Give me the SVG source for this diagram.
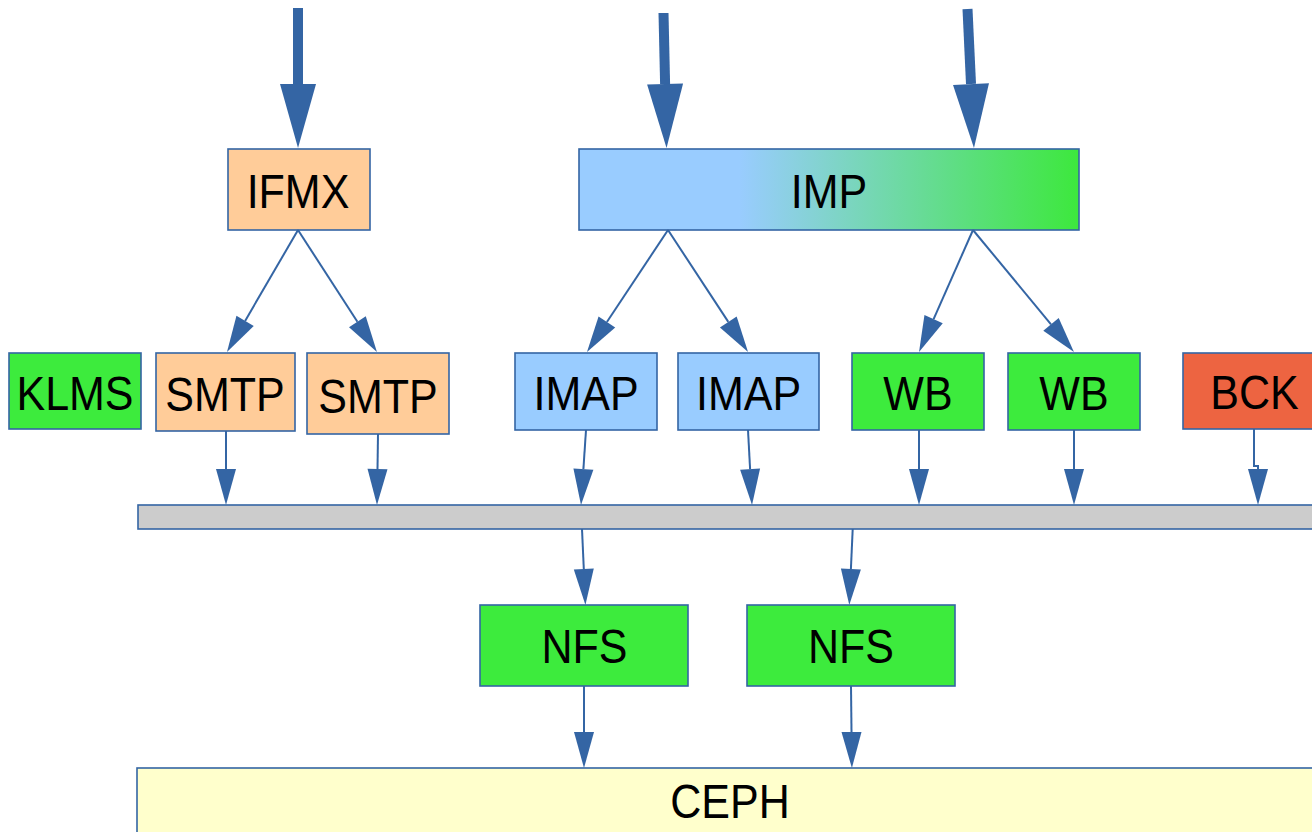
<svg xmlns="http://www.w3.org/2000/svg" width="1312" height="832" viewBox="0 0 1312 832">
  <defs>
    <style>
      .box { stroke: #3465a4; stroke-width: 1.6; }
      .peach { fill: #ffcc99; }
      .green { fill: #3deb3d; }
      .blue { fill: #99ccff; }
      .red { fill: #ed6441; }
      .gray { fill: #cccccc; }
      .cream { fill: #ffffcc; }
      .lbl { font-family: "Liberation Sans", Arial, sans-serif; font-size: 43px; fill: #000; text-anchor: middle; }
      .thin { stroke: #3465a4; stroke-width: 2; fill: none; }
      .thick { stroke: #3465a4; stroke-width: 10; fill: none; }
    </style>
    <linearGradient id="impFill" x1="0" y1="0" x2="1" y2="0">
      <stop offset="0.32" stop-color="#99ccff"/>
      <stop offset="1" stop-color="#3de83d"/>
    </linearGradient>
    <marker id="head" markerUnits="userSpaceOnUse" viewBox="0 -10 36 20" refX="0" refY="0" markerWidth="36" markerHeight="20" orient="auto" overflow="visible">
      <path d="M0,-10 L36,0 L0,10 Z" fill="#3465a4"/>
    </marker>
    <marker id="bighead" markerUnits="userSpaceOnUse" viewBox="0 -18 64 36" refX="0" refY="0" markerWidth="64" markerHeight="36" orient="auto" overflow="visible">
      <path d="M0,-18 L64,0 L0,18 Z" fill="#3465a4"/>
    </marker>
  </defs>

  <rect width="1312" height="832" fill="#ffffff"/>

  <!-- top-level nodes -->
  <g id="ifmx">
    <rect class="box peach" x="228" y="149" width="142" height="81"/>
    <text class="lbl" transform="matrix(1,0,0,1.13,298,208)">IFMX</text>
  </g>
  <g id="imp">
    <rect class="box" fill="url(#impFill)" x="579" y="149" width="500" height="81"/>
    <text class="lbl" transform="matrix(1,0,0,1.13,829,208)">IMP</text>
  </g>

  <!-- service row -->
  <g id="klms">
    <rect class="box green" x="9" y="353" width="132" height="76"/>
    <text class="lbl" transform="matrix(1,0,0,1.13,75,410)">KLMS</text>
  </g>
  <g id="smtp1">
    <rect class="box peach" x="156" y="353" width="139" height="78"/>
    <text class="lbl" transform="matrix(1,0,0,1.13,225,411)">SMTP</text>
  </g>
  <g id="smtp2">
    <rect class="box peach" x="307" y="353" width="142" height="81"/>
    <text class="lbl" transform="matrix(1,0,0,1.13,378,413)">SMTP</text>
  </g>
  <g id="imap1">
    <rect class="box blue" x="515" y="353" width="142" height="77"/>
    <text class="lbl" transform="matrix(1,0,0,1.13,586,410)">IMAP</text>
  </g>
  <g id="imap2">
    <rect class="box blue" x="678" y="353" width="141" height="77"/>
    <text class="lbl" transform="matrix(1,0,0,1.13,748.5,410)">IMAP</text>
  </g>
  <g id="wb1">
    <rect class="box green" x="852" y="353" width="132" height="77"/>
    <text class="lbl" transform="matrix(1,0,0,1.13,918,410)">WB</text>
  </g>
  <g id="wb2">
    <rect class="box green" x="1008" y="353" width="132" height="77"/>
    <text class="lbl" transform="matrix(1,0,0,1.13,1074,410)">WB</text>
  </g>
  <g id="bck">
    <rect class="box red" x="1183" y="353" width="140" height="76"/>
    <text class="lbl" transform="matrix(1,0,0,1.13,1254.5,409)">BCK</text>
  </g>

  <!-- shared bus -->
  <g id="bus">
    <rect class="box gray" x="138" y="505" width="1185" height="24"/>
  </g>

  <!-- storage -->
  <g id="nfs1">
    <rect class="box green" x="480" y="605" width="208" height="81"/>
    <text class="lbl" transform="matrix(1,0,0,1.13,584.5,663)">NFS</text>
  </g>
  <g id="nfs2">
    <rect class="box green" x="747" y="605" width="208" height="81"/>
    <text class="lbl" transform="matrix(1,0,0,1.13,851,663)">NFS</text>
  </g>
  <g id="ceph">
    <rect class="box cream" x="137" y="768" width="1190" height="80"/>
    <text class="lbl" transform="matrix(1,0,0,1.13,730,818)">CEPH</text>
  </g>

  <g id="connectors">
    <!-- incoming traffic -->
    <line class="thick" x1="298" y1="8" x2="298" y2="84" marker-end="url(#bighead)"/>
    <line class="thick" x1="663.5" y1="13" x2="665.1" y2="84" marker-end="url(#bighead)"/>
    <line class="thick" x1="967.5" y1="9" x2="971" y2="84.1" marker-end="url(#bighead)"/>

    <!-- fan-out to services -->
    <line class="thin" x1="298" y1="230" x2="245.1" y2="320.9" marker-end="url(#head)"/>
    <line class="thin" x1="298" y1="230" x2="357.4" y2="321.8" marker-end="url(#head)"/>
    <line class="thin" x1="668" y1="230" x2="606.9" y2="322" marker-end="url(#head)"/>
    <line class="thin" x1="668" y1="230" x2="728.3" y2="321.9" marker-end="url(#head)"/>
    <line class="thin" x1="973" y1="230" x2="933.6" y2="319.1" marker-end="url(#head)"/>
    <line class="thin" x1="973" y1="230" x2="1051" y2="324.3" marker-end="url(#head)"/>

    <!-- services to bus -->
    <line class="thin" x1="226" y1="431" x2="226" y2="469" marker-end="url(#head)"/>
    <line class="thin" x1="378" y1="434" x2="377.5" y2="469" marker-end="url(#head)"/>
    <line class="thin" x1="586" y1="430" x2="583.4" y2="469.1" marker-end="url(#head)"/>
    <line class="thin" x1="748" y1="430" x2="750.1" y2="469.1" marker-end="url(#head)"/>
    <line class="thin" x1="919" y1="430" x2="919" y2="469" marker-end="url(#head)"/>
    <line class="thin" x1="1074" y1="430" x2="1074" y2="469" marker-end="url(#head)"/>
    <polyline class="thin" points="1254,429 1254,466 1258,466 1258,469" marker-end="url(#head)"/>

    <!-- bus to NFS -->
    <line class="thin" x1="582" y1="529" x2="583.8" y2="569" marker-end="url(#head)"/>
    <line class="thin" x1="852.7" y1="529" x2="850.9" y2="569" marker-end="url(#head)"/>

    <!-- NFS to CEPH -->
    <line class="thin" x1="584" y1="686" x2="584" y2="732" marker-end="url(#head)"/>
    <line class="thin" x1="851" y1="686" x2="851.5" y2="732" marker-end="url(#head)"/>
  </g>
</svg>
